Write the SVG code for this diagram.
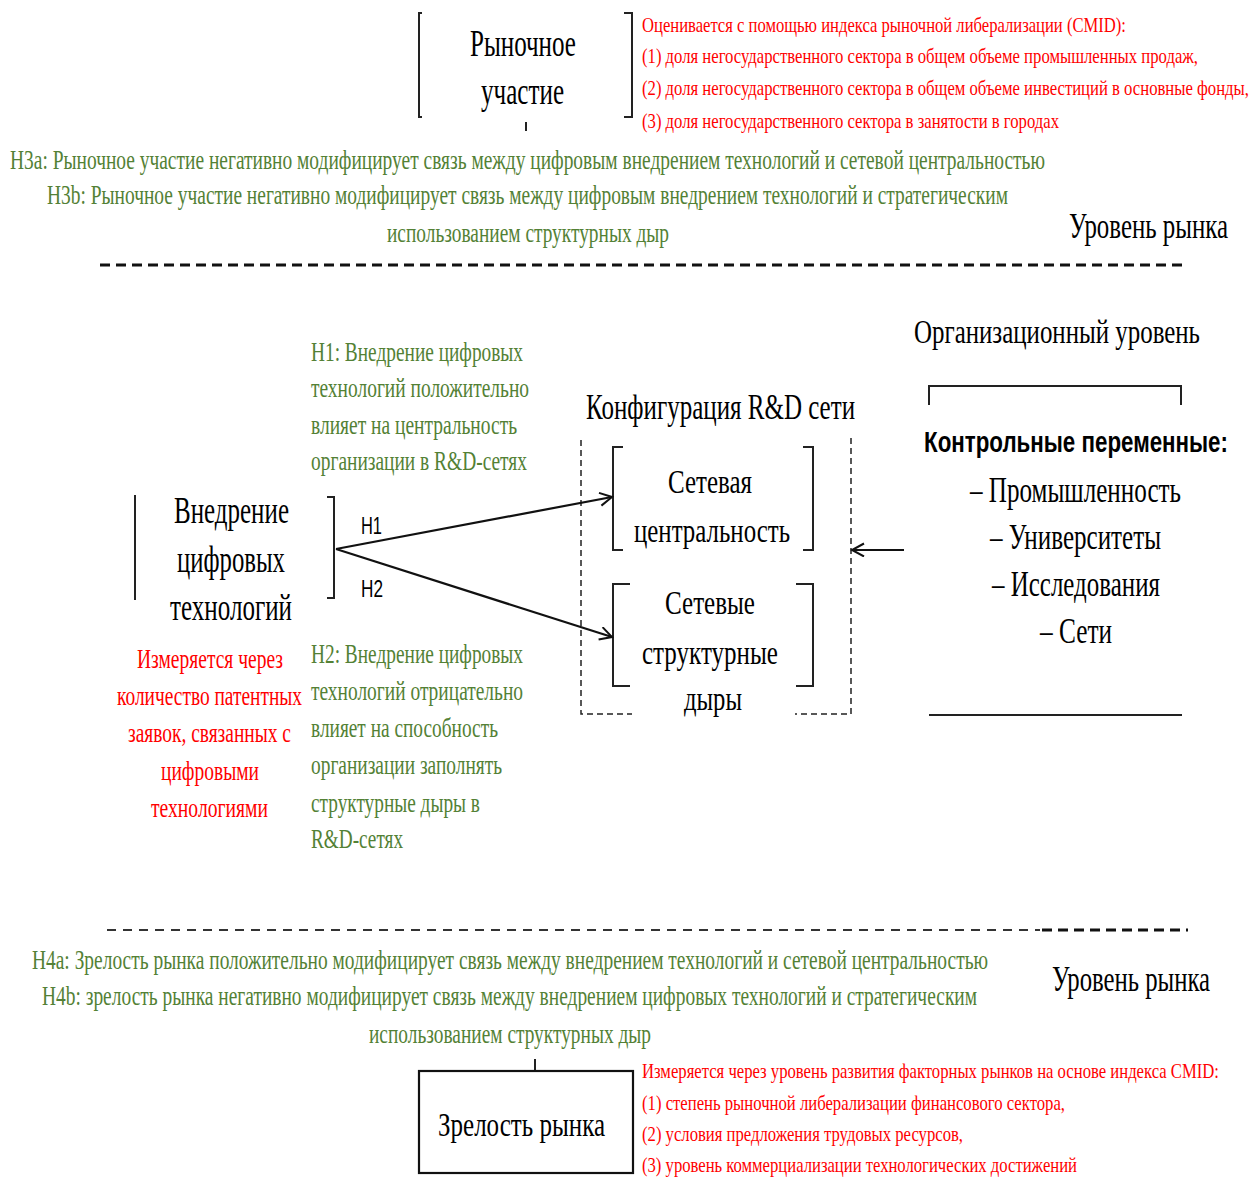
<svg xmlns="http://www.w3.org/2000/svg" width="1251" height="1177" viewBox="0 0 1251 1177">
<style>
text{font-family:"Liberation Serif","Times New Roman",serif;fill:#000}
.red{fill:#ff0000}
.grn{fill:#538135}
.sans{font-family:"Liberation Sans",Arial,sans-serif}
.br{fill:none;stroke:#222;stroke-width:2}
.con{fill:none;stroke:#111;stroke-width:2.2}
.dash{fill:none;stroke:#111;stroke-width:3;stroke-dasharray:10 6}
.dthin{fill:none;stroke:#222;stroke-width:1.5;stroke-dasharray:6 4}
</style>
<defs>
<marker id="open" markerUnits="userSpaceOnUse" markerWidth="16" markerHeight="16" refX="13" refY="7" orient="auto">
<path d="M1,0.5 L13,7 L1,13.5" fill="none" stroke="#111" stroke-width="2"/>
</marker>
</defs>
<rect width="1251" height="1177" fill="#fff"/>

<g id="market-participation">
<path class="br" d="M422,13 H419 V117 H422"/>
<path class="br" d="M624,13 H632 V117 H624"/>
<text transform="translate(470,56) scale(0.75,1)" font-size="38" textLength="141.3" lengthAdjust="spacingAndGlyphs">Рыночное</text>
<text transform="translate(481,104) scale(0.75,1)" font-size="38" textLength="110.7" lengthAdjust="spacingAndGlyphs">участие</text>
<path d="M526,122 V131" stroke="#222" stroke-width="2"/>
</g>

<g id="participation-measure">
<text class="red" transform="translate(642,32) scale(0.75,1)" font-size="21" textLength="645.3" lengthAdjust="spacingAndGlyphs">Оценивается с помощью индекса рыночной либерализации (CMID):</text>
<text class="red" transform="translate(642,63) scale(0.75,1)" font-size="21" textLength="741.3" lengthAdjust="spacingAndGlyphs">(1) доля негосударственного сектора в общем объеме промышленных продаж,</text>
<text class="red" transform="translate(642,95) scale(0.75,1)" font-size="21" textLength="809.3" lengthAdjust="spacingAndGlyphs">(2) доля негосударственного сектора в общем объеме инвестиций в основные фонды,</text>
<text class="red" transform="translate(642,128) scale(0.75,1)" font-size="21" textLength="556" lengthAdjust="spacingAndGlyphs">(3) доля негосударственного сектора в занятости в городах</text>
</g>

<g id="h3">
<text class="grn" transform="translate(10,169) scale(0.75,1)" font-size="27" textLength="1380" lengthAdjust="spacingAndGlyphs">H3a: Рыночное участие негативно модифицирует связь между цифровым внедрением технологий и сетевой центральностью</text>
<text class="grn" transform="translate(47,204) scale(0.75,1)" font-size="27" textLength="1281.3" lengthAdjust="spacingAndGlyphs">H3b: Рыночное участие негативно модифицирует связь между цифровым внедрением технологий и стратегическим</text>
<text class="grn" transform="translate(387,242) scale(0.75,1)" font-size="27" textLength="376" lengthAdjust="spacingAndGlyphs">использованием структурных дыр</text>
</g>

<g id="market-level-top">
<text transform="translate(1069,238) scale(0.75,1)" font-size="36" textLength="212" lengthAdjust="spacingAndGlyphs">Уровень рынка</text>
</g>

<g id="separators">
<path class="dash" d="M100,265 H1183"/>
<path d="M107,930 H1040" fill="none" stroke="#333" stroke-width="2.2" stroke-dasharray="9 7"/>
<path class="dash" d="M1042,930 H1188"/>
</g>

<g id="org-level">
<text transform="translate(914,343) scale(0.75,1)" font-size="33" textLength="381.3" lengthAdjust="spacingAndGlyphs">Организационный уровень</text>
</g>

<g id="h1">
<text class="grn" transform="translate(311,361) scale(0.75,1)" font-size="27" textLength="282.7" lengthAdjust="spacingAndGlyphs">H1: Внедрение цифровых</text>
<text class="grn" transform="translate(311,397) scale(0.75,1)" font-size="27" textLength="290.7" lengthAdjust="spacingAndGlyphs">технологий положительно</text>
<text class="grn" transform="translate(311,434) scale(0.75,1)" font-size="27" textLength="274.7" lengthAdjust="spacingAndGlyphs">влияет на центральность</text>
<text class="grn" transform="translate(311,470) scale(0.75,1)" font-size="27" textLength="288" lengthAdjust="spacingAndGlyphs">организации в R&amp;D-сетях</text>
</g>

<g id="digital-adoption">
<path class="br" d="M135,495 V600"/>
<path class="br" d="M327,497 H334 V598 H327"/>
<text transform="translate(174,523) scale(0.75,1)" font-size="38" textLength="153.3" lengthAdjust="spacingAndGlyphs">Внедрение</text>
<text transform="translate(177,572) scale(0.75,1)" font-size="38" textLength="144" lengthAdjust="spacingAndGlyphs">цифровых</text>
<text transform="translate(170,620) scale(0.75,1)" font-size="38" textLength="162.7" lengthAdjust="spacingAndGlyphs">технологий</text>
</g>

<g id="adoption-measure">
<text class="red" transform="translate(137,668) scale(0.75,1)" font-size="27" textLength="194.7" lengthAdjust="spacingAndGlyphs">Измеряется через</text>
<text class="red" transform="translate(117,705) scale(0.75,1)" font-size="27" textLength="246.7" lengthAdjust="spacingAndGlyphs">количество патентных</text>
<text class="red" transform="translate(128,742) scale(0.75,1)" font-size="27" textLength="217.3" lengthAdjust="spacingAndGlyphs">заявок, связанных с</text>
<text class="red" transform="translate(161,780) scale(0.75,1)" font-size="27" textLength="130.7" lengthAdjust="spacingAndGlyphs">цифровыми</text>
<text class="red" transform="translate(151,817) scale(0.75,1)" font-size="27" textLength="156" lengthAdjust="spacingAndGlyphs">технологиями</text>
</g>

<g id="h2">
<text class="grn" transform="translate(311,663) scale(0.75,1)" font-size="27" textLength="282.7" lengthAdjust="spacingAndGlyphs">H2: Внедрение цифровых</text>
<text class="grn" transform="translate(311,700) scale(0.75,1)" font-size="27" textLength="282.7" lengthAdjust="spacingAndGlyphs">технологий отрицательно</text>
<text class="grn" transform="translate(311,737) scale(0.75,1)" font-size="27" textLength="249.3" lengthAdjust="spacingAndGlyphs">влияет на способность</text>
<text class="grn" transform="translate(311,774) scale(0.75,1)" font-size="27" textLength="254.7" lengthAdjust="spacingAndGlyphs">организации заполнять</text>
<text class="grn" transform="translate(311,812) scale(0.75,1)" font-size="27" textLength="225.3" lengthAdjust="spacingAndGlyphs">структурные дыры в</text>
<text class="grn" transform="translate(311,848) scale(0.75,1)" font-size="27" textLength="122.7" lengthAdjust="spacingAndGlyphs">R&amp;D-сетях</text>
</g>

<g id="rd-config">
<text transform="translate(586,419) scale(0.75,1)" font-size="35" textLength="358.7" lengthAdjust="spacingAndGlyphs">Конфигурация R&amp;D сети</text>
<path class="dthin" d="M581,440 V714 H632"/>
<path class="dthin" d="M851,438 V714 H795"/>
</g>

<g id="network-centrality">
<path class="br" d="M623,447 H613 V550 H623"/>
<path class="br" d="M803,447 H813 V550 H803"/>
<text transform="translate(668,493) scale(0.75,1)" font-size="34" textLength="112" lengthAdjust="spacingAndGlyphs">Сетевая</text>
<text transform="translate(634,542) scale(0.75,1)" font-size="34" textLength="208" lengthAdjust="spacingAndGlyphs">центральность</text>
</g>

<g id="structural-holes">
<path class="br" d="M630,584 H613 V686 H630"/>
<path class="br" d="M796,584 H813 V686 H796"/>
<text transform="translate(665,614) scale(0.75,1)" font-size="34" textLength="120" lengthAdjust="spacingAndGlyphs">Сетевые</text>
<text transform="translate(642,664) scale(0.75,1)" font-size="34" textLength="181.3" lengthAdjust="spacingAndGlyphs">структурные</text>
<text transform="translate(684,710) scale(0.75,1)" font-size="34" textLength="77.3" lengthAdjust="spacingAndGlyphs">дыры</text>
</g>

<g id="controls">
<path class="br" d="M929,405 V386 H1181 V405"/>
<path class="br" d="M929,715 H1182"/>
<text class="sans" transform="translate(924,452) scale(0.75,1)" font-size="30" font-weight="bold" textLength="405.3" lengthAdjust="spacingAndGlyphs">Контрольные переменные:</text>
<text transform="translate(970,502) scale(0.75,1)" font-size="35" textLength="281.3" lengthAdjust="spacingAndGlyphs">– Промышленность</text>
<text transform="translate(990,549) scale(0.75,1)" font-size="35" textLength="228" lengthAdjust="spacingAndGlyphs">– Университеты</text>
<text transform="translate(992,596) scale(0.75,1)" font-size="35" textLength="224" lengthAdjust="spacingAndGlyphs">– Исследования</text>
<text transform="translate(1040,643) scale(0.75,1)" font-size="35" textLength="96" lengthAdjust="spacingAndGlyphs">– Сети</text>
</g>

<g id="connectors">
<path class="con" d="M336,549 L612,497" marker-end="url(#open)"/>
<path class="con" d="M336,549 L612,637" marker-end="url(#open)"/>
<path class="con" d="M904,550 L852,550" marker-end="url(#open)"/>
<text class="sans" transform="translate(361,534) scale(0.75,1)" font-size="23" textLength="28" lengthAdjust="spacingAndGlyphs">H1</text>
<text class="sans" transform="translate(361,597) scale(0.75,1)" font-size="23" textLength="29.3" lengthAdjust="spacingAndGlyphs">H2</text>
</g>

<g id="h4">
<text class="grn" transform="translate(32,969) scale(0.75,1)" font-size="27" textLength="1274.7" lengthAdjust="spacingAndGlyphs">H4a: Зрелость рынка положительно модифицирует связь между внедрением технологий и сетевой центральностью</text>
<text class="grn" transform="translate(42,1005) scale(0.75,1)" font-size="27" textLength="1246.7" lengthAdjust="spacingAndGlyphs">H4b: зрелость рынка негативно модифицирует связь между внедрением цифровых технологий и стратегическим</text>
<text class="grn" transform="translate(369,1043) scale(0.75,1)" font-size="27" textLength="376" lengthAdjust="spacingAndGlyphs">использованием структурных дыр</text>
</g>

<g id="market-level-bottom">
<text transform="translate(1052,991) scale(0.75,1)" font-size="35" textLength="210.7" lengthAdjust="spacingAndGlyphs">Уровень рынка</text>
</g>

<g id="market-maturity">
<path d="M535,1059 V1070" stroke="#222" stroke-width="2"/>
<rect x="419" y="1071" width="214" height="102" fill="none" stroke="#111" stroke-width="2.2"/>
<text transform="translate(438,1136) scale(0.75,1)" font-size="34" textLength="222.7" lengthAdjust="spacingAndGlyphs">Зрелость рынка</text>
</g>

<g id="maturity-measure">
<text class="red" transform="translate(642,1078) scale(0.75,1)" font-size="21" textLength="769.3" lengthAdjust="spacingAndGlyphs">Измеряется через уровень развития факторных рынков на основе индекса CMID:</text>
<text class="red" transform="translate(642,1110) scale(0.75,1)" font-size="21" textLength="564" lengthAdjust="spacingAndGlyphs">(1) степень рыночной либерализации финансового сектора,</text>
<text class="red" transform="translate(642,1141) scale(0.75,1)" font-size="21" textLength="428" lengthAdjust="spacingAndGlyphs">(2) условия предложения трудовых ресурсов,</text>
<text class="red" transform="translate(642,1172) scale(0.75,1)" font-size="21" textLength="580" lengthAdjust="spacingAndGlyphs">(3) уровень коммерциализации технологических достижений</text>
</g>
</svg>
